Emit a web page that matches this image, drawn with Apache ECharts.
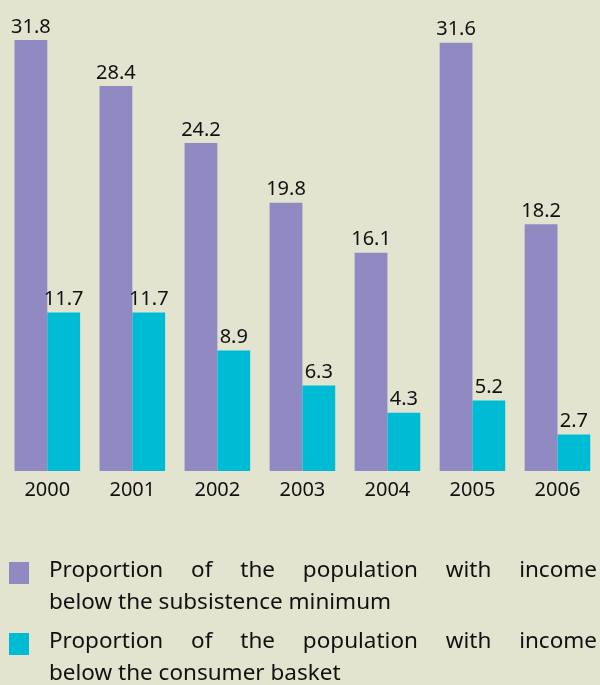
<!DOCTYPE html>
<html><head><meta charset="utf-8">
<script src="https://cdn.jsdelivr.net/npm/echarts@6/dist/echarts.min.js"></script>
<style>html,body{margin:0;padding:0;background:#e2e4cf;}#c{width:600px;height:685px;}</style>
</head><body><div id="c"></div>
<script>
const years = ['2000','2001','2002','2003','2004','2005','2006'];
const subsistence = [31.8, 28.4, 24.2, 19.8, 16.1, 31.6, 18.2];
const basket = [11.7, 11.7, 8.9, 6.3, 4.3, 5.2, 2.7];
const seriesNames = ['Proportion of the population with income below the subsistence minimum',
                     'Proportion of the population with income below the consumer basket'];
const legendLines = [
  ['Proportion of the population with income', 'below the subsistence minimum'],
  ['Proportion of the population with income', 'below the consumer basket']
];
const colors = ['#9189c2', '#00bbd4'];
const FONT = '"Noto Sans", "Open Sans", sans-serif';

const chart = echarts.init(document.getElementById('c'));

const LEG_SIZE = 22.5, JUST_W = 548;
const ctx = document.createElement('canvas').getContext('2d');
ctx.font = LEG_SIZE + 'px "Noto Sans"';
function justified(line) {
  return line.split(' ').map(w => '{w|' + w + '}').join('{g|}');
}
function gapWidth(line) {
  const words = line.split(' ');
  const total = words.reduce((s, w) => s + ctx.measureText(w).width, 0);
  return (JUST_W - total) / (words.length - 1);
}

const graphics = [];
legendLines.forEach((lines, i) => {
  const y0 = 562 + i * 71;
  graphics.push({type: 'rect', left: 9, top: y0, shape: {width: 20, height: 22}, style: {fill: colors[i]}});
  graphics.push({type: 'text', left: 49, top: y0 - 3,
    style: {text: justified(lines[0]), rich: {w: {fontSize: LEG_SIZE, fontFamily: FONT, fill: '#111'}, g: {width: gapWidth(lines[0])}},
      fontSize: LEG_SIZE, fontFamily: FONT, fill: '#111'}});
  graphics.push({type: 'text', left: 49, top: y0 + 29,
    style: {text: lines[1], fontSize: LEG_SIZE, fontFamily: FONT, fill: '#111'}});
});

const labelStyle = {show: true, position: 'top', distance: 3, color: '#111', fontSize: 20, fontFamily: FONT};

chart.setOption({
  backgroundColor: '#e2e4cf',
  animation: false,
  grid: {left: 4.8, width: 598, top: 37.3, height: 433.7},
  xAxis: {type: 'category', data: years,
    axisLine: {show: false}, axisTick: {show: false},
    axisLabel: {color: '#111', fontSize: 20, fontFamily: FONT, margin: 9}},
  yAxis: {type: 'value', min: 0, max: 32, show: false, splitLine: {show: false}},
  series: [
    {name: seriesNames[0], type: 'bar', data: subsistence, barWidth: 32.8, barGap: '0%',
     itemStyle: {color: colors[0]}, label: labelStyle},
    {name: seriesNames[1], type: 'bar', data: basket, barWidth: 32.8, barGap: '0%',
     itemStyle: {color: colors[1]}, label: labelStyle}
  ],
  graphic: graphics
});
</script></body></html>
